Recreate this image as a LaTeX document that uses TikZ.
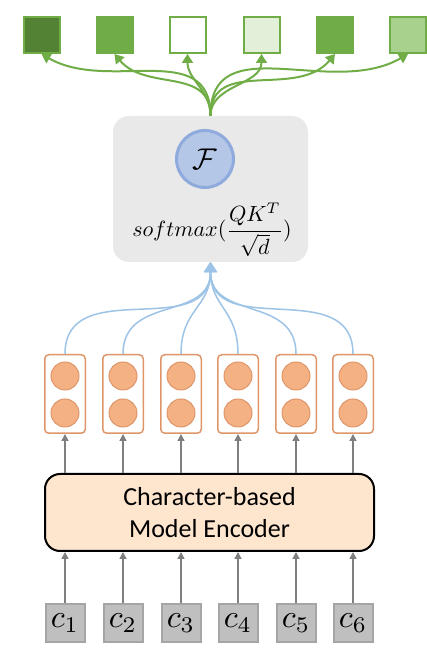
\documentclass[tikz,border=0pt]{standalone}
\usepackage{amssymb,amsmath}
\usepackage{fontspec}
\newfontfamily\carlito{Carlito}
\usetikzlibrary{arrows.meta}

\definecolor{greendark}{RGB}{84,130,53}
\definecolor{greenmid}{RGB}{112,173,71}
\definecolor{greenpale}{RGB}{226,240,217}
\definecolor{greenlight}{RGB}{169,209,142}
\definecolor{fusegray}{RGB}{233,233,233}
\definecolor{fblue}{RGB}{180,199,231}
\definecolor{fblueline}{RGB}{143,170,220}
\definecolor{linkblue}{RGB}{157,195,230}
\definecolor{hidorange}{RGB}{244,177,131}
\definecolor{hidline}{RGB}{222,150,105}
\definecolor{encpeach}{RGB}{253,229,206}
\definecolor{chargray}{RGB}{191,191,191}
\definecolor{charline}{RGB}{165,165,165}
\definecolor{linkgray}{RGB}{127,127,127}

\begin{document}
\begin{tikzpicture}[x=1pt,y=1pt,
  outsq/.style={draw=greenmid, line width=2pt, minimum size=36pt, inner sep=0pt},
  hidbox/.style={draw=hidline, line width=1.5pt, rounded corners=4pt, minimum width=40.5pt, minimum height=78.5pt, inner sep=0pt},
  hidunit/.style={circle, draw=hidline, fill=hidorange, line width=1pt, minimum size=28pt, inner sep=0pt},
  charbox/.style={draw=charline, fill=chargray, line width=2pt, minimum width=39pt, minimum height=38pt, inner sep=0pt},
  greenlink/.style={draw=greenmid, line width=2pt, -{Triangle[width=11pt,length=9pt]}},
  bluelink/.style={draw=linkblue, line width=1.5pt, -{Triangle[width=13pt,length=10pt]}},
  graylink/.style={draw=linkgray, line width=1.5pt, -{Triangle[width=7pt,length=7pt]}}]
\useasboundingbox (0,0) rectangle (427,663);

  % output weights
  \foreach \i/\x/\col in {1/41.5/greendark, 2/114.5/greenmid, 3/187.5/white,
                          4/261.5/greenpale, 5/335/greenmid, 6/408/greenlight}
    \node[outsq, fill=\col] (out\i) at (\x,628) {};

  % fusion block
  \node[fill=fusegray, rounded corners=16pt, minimum width=195pt, minimum height=146pt] (fuse) at (210.5,474) {};
  \node[circle, draw=fblueline, fill=fblue, line width=3pt, minimum size=57pt, inner sep=0pt] (calF) at (205,504)
        {\scalebox{3}{$\mathcal{F}$}};
  \node (attn) at (212,433) {\scalebox{2.2}{$\displaystyle softmax(\frac{QK^T}{\sqrt{d}})$}};

  % fusion -> weights
  \foreach \i/\ang/\loose in {1/-30/1.1, 2/-50/1.1, 3/-90/1, 4/-90/1, 5/-130/1.1, 6/-150/1.1}
    \draw[greenlink] (fuse.north) to[out=90, in=\ang, looseness=\loose] (out\i.south);

  % hidden states
  \foreach \i/\x in {1/65, 2/123, 3/181, 4/238, 5/296, 6/353} {
    \node[hidbox] (h\i) at (\x,269) {};
    \node[hidunit] (h\i a) at (\x,287) {};
    \node[hidunit] (h\i b) at (\x,250) {};
    \draw[bluelink] (h\i.north) to[out=90, in=-90, looseness=1.2] (fuse.south);
  }

  % encoder
  \node[draw=black, fill=encpeach, line width=2pt, rounded corners=15pt, minimum width=329pt, minimum height=77pt,
        align=center, font=\carlito\fontsize{26}{32}\selectfont] (enc) at (209.5,150.5)
        {Character-based\\Model Encoder};

  % characters
  \foreach \i/\x in {1/65, 2/123, 3/181, 4/238, 5/296, 6/353} {
    \node[charbox] (c\i) at (\x,40) {\scalebox{3.2}{$c_{\i}$}};
    \draw[graylink] (c\i.north) -- (c\i.north |- enc.south);
    \draw[graylink] (h\i.south |- enc.north) -- (h\i.south);
  }
\end{tikzpicture}
\end{document}
